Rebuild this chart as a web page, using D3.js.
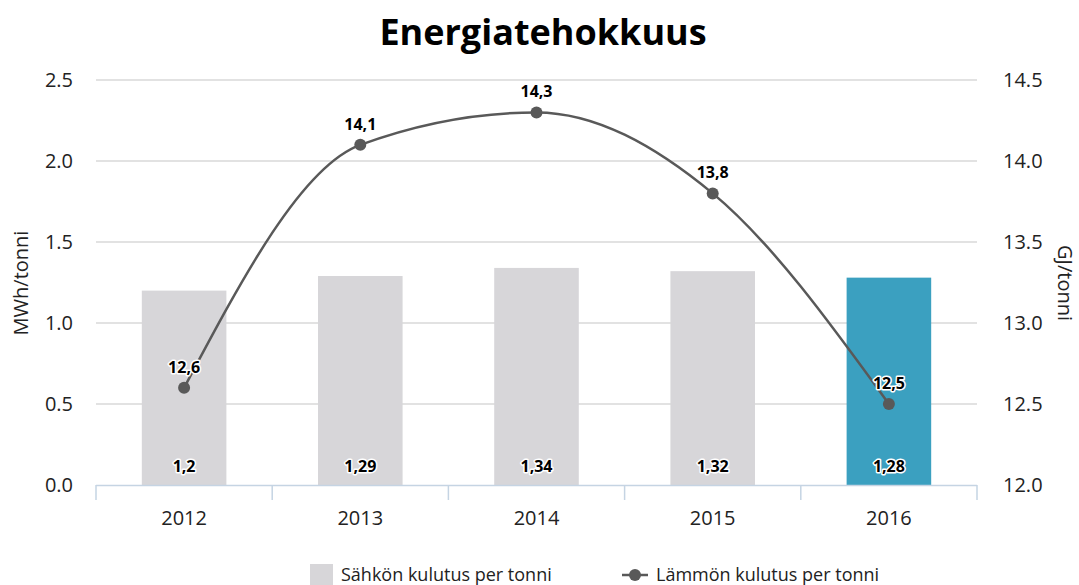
<!DOCTYPE html>
<html>
<head>
<meta charset="utf-8">
<script src="https://cdnjs.cloudflare.com/ajax/libs/d3/7.8.5/d3.min.js"></script>
<style>
  body { margin: 0; background: #fff; font-family: "Open Sans", "Noto Sans", sans-serif; }
  .halo { paint-order: stroke; stroke: #fff; stroke-width: 3px; stroke-linejoin: round; }
</style>
</head>
<body>
<svg width="1079" height="585"></svg>
<script>
var years = ["2012", "2013", "2014", "2015", "2016"];
var electricity = [1.2, 1.29, 1.34, 1.32, 1.28];
var heat = [12.6, 14.1, 14.3, 13.8, 12.5];
var leftTicks = [0, 0.5, 1, 1.5, 2, 2.5];
var rightTicks = [12, 12.5, 13, 13.5, 14, 14.5];

(function () {
    'use strict';
    var svg = d3.select("svg");
    var left = 96, right = 977, top = 80, bottom = 485;
    var fmt = function (v) { return String(v).replace(".", ","); };

    var x = d3.scaleBand().domain(years).range([left, right]).paddingInner(0.52).paddingOuter(0.26);
    var xc = d3.scaleBand().domain(years).range([left, right]);
    var yL = d3.scaleLinear().domain([0, 2.5]).range([bottom, top]);
    var yR = d3.scaleLinear().domain([12, 14.5]).range([bottom, top]);

    // gridlines
    svg.append("g").selectAll("line").data(leftTicks.slice(1)).enter().append("line")
        .attr("x1", left).attr("x2", right)
        .attr("y1", function (d) { return yL(d); }).attr("y2", function (d) { return yL(d); })
        .attr("stroke", "#d9d9d9").attr("stroke-width", 1.5);

    // left axis labels
    svg.append("g").selectAll("text").data(leftTicks).enter().append("text")
        .attr("x", 73).attr("y", function (d) { return yL(d) + 7; })
        .attr("text-anchor", "end").attr("font-size", 20).attr("fill", "#222")
        .text(function (d) { return d.toFixed(1); });

    svg.append("g").selectAll("text").data(rightTicks).enter().append("text")
        .attr("x", 1003).attr("y", function (d) { return yR(d) + 7; })
        .attr("text-anchor", "start").attr("font-size", 20).attr("fill", "#222")
        .text(function (d) { return d.toFixed(1); });

    // bars
    svg.append("g").selectAll("rect").data(electricity).enter().append("rect")
        .attr("x", function (d, i) { return x(years[i]); })
        .attr("width", x.bandwidth())
        .attr("y", function (d) { return yL(d); })
        .attr("height", function (d) { return bottom - yL(d); })
        .attr("fill", function (d, i) { return i === years.length - 1 ? "#3ba0c0" : "#d7d6d9"; });

    // x axis
    var xAxis = svg.append("g");
    xAxis.append("line").attr("x1", left).attr("x2", right).attr("y1", bottom + 0.5).attr("y2", bottom + 0.5)
        .attr("stroke", "#c5d4e3").attr("stroke-width", 1.5);
    xAxis.selectAll("line.tick").data(years.concat(["end"])).enter().append("line")
        .attr("class", "tick")
        .attr("x1", function (d, i) { return i < years.length ? xc(d) : right; })
        .attr("x2", function (d, i) { return i < years.length ? xc(d) : right; })
        .attr("y1", bottom).attr("y2", bottom + 15)
        .attr("stroke", "#c5d4e3").attr("stroke-width", 1.5);
    xAxis.selectAll("text").data(years).enter().append("text")
        .attr("x", function (d) { return xc(d) + xc.bandwidth() / 2; })
        .attr("y", 525).attr("text-anchor", "middle").attr("font-size", 20).attr("fill", "#222")
        .text(function (d) { return d; });

    // bar labels
    svg.append("g").selectAll("text").data(electricity).enter().append("text")
        .attr("class", "halo")
        .attr("x", function (d, i) { return xc(years[i]) + xc.bandwidth() / 2; })
        .attr("y", 472).attr("text-anchor", "middle").attr("font-size", 16).attr("font-weight", "bold")
        .attr("fill", "#000")
        .text(fmt);

    // line
    var line = d3.line()
        .x(function (d, i) { return xc(years[i]) + xc.bandwidth() / 2; })
        .y(function (d) { return yR(d); })
        .curve(d3.curveMonotoneX);
    svg.append("path").datum(heat).attr("d", line)
        .attr("fill", "none").attr("stroke", "#595959").attr("stroke-width", 2.5);
    svg.append("g").selectAll("circle").data(heat).enter().append("circle")
        .attr("cx", function (d, i) { return xc(years[i]) + xc.bandwidth() / 2; })
        .attr("cy", function (d) { return yR(d); })
        .attr("r", 6).attr("fill", "#595959");
    svg.append("g").selectAll("text").data(heat).enter().append("text")
        .attr("class", "halo")
        .attr("x", function (d, i) { return xc(years[i]) + xc.bandwidth() / 2; })
        .attr("y", function (d) { return yR(d) - 15; })
        .attr("text-anchor", "middle").attr("font-size", 16).attr("font-weight", "bold")
        .attr("fill", "#000")
        .text(fmt);

    // title
    svg.append("text").attr("x", 543).attr("y", 45).attr("text-anchor", "middle")
        .attr("font-size", 36).attr("font-weight", "bold").attr("fill", "#000")
        .text("Energiatehokkuus");

    // axis titles
    svg.append("text").attr("transform", "translate(28,283) rotate(-90)")
        .attr("text-anchor", "middle").attr("font-size", 20).attr("fill", "#222").text("MWh/tonni");
    svg.append("text").attr("transform", "translate(1058,283) rotate(90)")
        .attr("text-anchor", "middle").attr("font-size", 20).attr("fill", "#222").text("GJ/tonni");

    // legend
    var lg = svg.append("g");
    lg.append("rect").attr("x", 310).attr("y", 564).attr("width", 23).attr("height", 21).attr("fill", "#d7d6d9");
    lg.append("text").attr("x", 341).attr("y", 581).attr("font-size", 18).attr("fill", "#222")
        .text("Sähkön kulutus per tonni");
    lg.append("line").attr("x1", 622).attr("x2", 648).attr("y1", 575).attr("y2", 575)
        .attr("stroke", "#595959").attr("stroke-width", 2.5);
    lg.append("circle").attr("cx", 635).attr("cy", 575).attr("r", 6).attr("fill", "#595959");
    lg.append("text").attr("x", 656).attr("y", 581).attr("font-size", 18).attr("fill", "#222")
        .text("Lämmön kulutus per tonni");
}());
</script>
</body>
</html>
